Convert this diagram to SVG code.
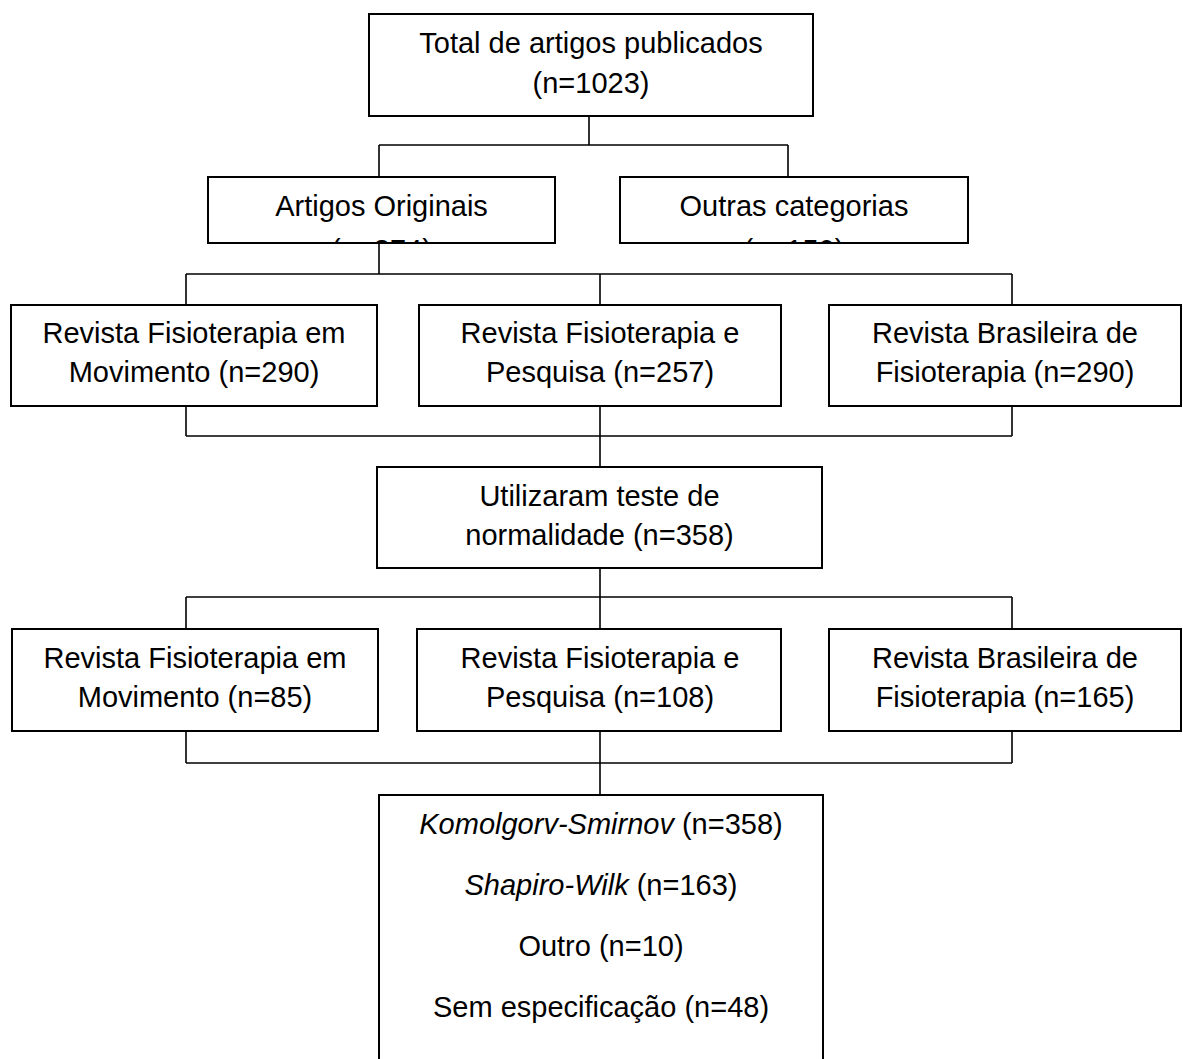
<svg xmlns="http://www.w3.org/2000/svg" width="1183" height="1059" viewBox="0 0 1183 1059">
<style>
.box{fill:#fff;stroke:#000;stroke-width:2}
.t{font-family:"Liberation Sans",Arial,sans-serif;font-size:29px;fill:#000;text-anchor:middle}
.it{font-style:italic}
.con{fill:none;stroke:#000;stroke-width:1.6}
</style>
<defs>
<clipPath id="clipA"><rect x="209" y="178" width="345" height="64"/></clipPath>
<clipPath id="clipB"><rect x="621" y="178" width="346" height="64"/></clipPath>
</defs>
<rect width="1183" height="1059" fill="#fff"/>
<g id="connectors">
<path class="con" d="M589 115V145M379 145H788M379 145V177M788 145V177"/>
<path class="con" d="M379 243V274M186 274H1012M186 274V305M600 274V305M1012 274V305"/>
<path class="con" d="M186 406V436M1012 406V436M186 436H1012M600 406V467"/>
<path class="con" d="M600 568V597M186 597H1012M186 597V629M600 597V629M1012 597V629"/>
<path class="con" d="M186 731V763M1012 731V763M186 763H1012M600 731V795"/>
</g>
<g id="n-total">
<rect class="box" x="369" y="14" width="444" height="102"/>
<text class="t" x="591" y="53">Total de artigos publicados</text>
<text class="t" x="591" y="93">(n=1023)</text>
</g>
<g id="n-originais">
<rect class="box" x="208" y="177" width="347" height="66"/>
<text class="t" x="381.5" y="216">Artigos Originais</text>
<text class="t" x="381.5" y="260" clip-path="url(#clipA)">(n=874)</text>
</g>
<g id="n-outras">
<rect class="box" x="620" y="177" width="348" height="66"/>
<text class="t" x="794" y="216">Outras categorias</text>
<text class="t" x="794" y="260" clip-path="url(#clipB)">(n=150)</text>
</g>
<g id="n-r1a">
<rect class="box" x="11" y="305" width="366" height="101"/>
<text class="t" x="194" y="343">Revista Fisioterapia em</text>
<text class="t" x="194" y="382">Movimento (n=290)</text>
</g>
<g id="n-r1b">
<rect class="box" x="419" y="305" width="362" height="101"/>
<text class="t" x="600" y="343">Revista Fisioterapia e</text>
<text class="t" x="600" y="382">Pesquisa (n=257)</text>
</g>
<g id="n-r1c">
<rect class="box" x="829" y="305" width="352" height="101"/>
<text class="t" x="1005" y="343">Revista Brasileira de</text>
<text class="t" x="1005" y="382">Fisioterapia (n=290)</text>
</g>
<g id="n-norm">
<rect class="box" x="377" y="467" width="445" height="101"/>
<text class="t" x="599.5" y="506">Utilizaram teste de</text>
<text class="t" x="599.5" y="545">normalidade (n=358)</text>
</g>
<g id="n-r2a">
<rect class="box" x="12" y="629" width="366" height="102"/>
<text class="t" x="195" y="668">Revista Fisioterapia em</text>
<text class="t" x="195" y="707">Movimento (n=85)</text>
</g>
<g id="n-r2b">
<rect class="box" x="417" y="629" width="364" height="102"/>
<text class="t" x="600" y="668">Revista Fisioterapia e</text>
<text class="t" x="600" y="707">Pesquisa (n=108)</text>
</g>
<g id="n-r2c">
<rect class="box" x="829" y="629" width="352" height="102"/>
<text class="t" x="1005" y="668">Revista Brasileira de</text>
<text class="t" x="1005" y="707">Fisioterapia (n=165)</text>
</g>
<g id="n-tests">
<rect class="box" x="379" y="795" width="444" height="300"/>
<text class="t" x="601" y="834"><tspan class="it">Komolgorv-Smirnov</tspan> (n=358)</text>
<text class="t" x="601" y="895"><tspan class="it">Shapiro-Wilk</tspan> (n=163)</text>
<text class="t" x="601" y="956">Outro (n=10)</text>
<text class="t" x="601" y="1017">Sem especificação (n=48)</text>
</g>
</svg>
